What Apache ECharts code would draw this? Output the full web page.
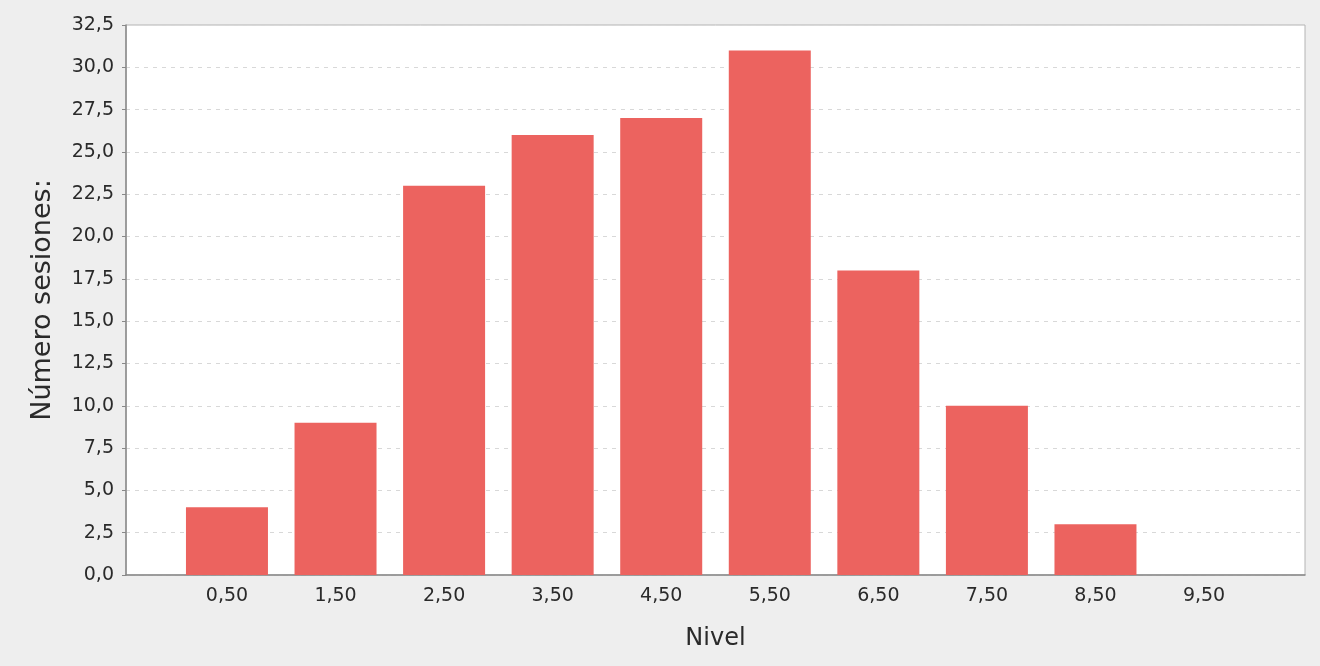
<!DOCTYPE html>
<html>
<head>
<meta charset="utf-8">
<script src="https://cdn.jsdelivr.net/npm/echarts@6/dist/echarts.min.js"></script>
<style>
html,body{margin:0;padding:0;background:#eeeeee;}
#c{width:1320px;height:666px;}
</style>
</head>
<body>
<div id="c"></div>
<script>
const binCenters = [0.5, 1.5, 2.5, 3.5, 4.5, 5.5, 6.5, 7.5, 8.5, 9.5];
const sessionCounts = [4, 9, 23, 26, 27, 31, 18, 10, 3, 0];
const xTickValues = [0.5, 1.5, 2.5, 3.5, 4.5, 5.5, 6.5, 7.5, 8.5, 9.5];
const yTickStep = 2.5;
const yMax = 32.5;

const chart = echarts.init(document.getElementById('c'), null, {renderer: 'canvas'});
const font = 'DejaVu Sans';
chart.setOption({
  backgroundColor: '#eeeeee',
  animation: false,
  grid: {
    left: 126, right: 15, top: 25, bottom: 91,
    show: true, backgroundColor: '#ffffff', borderColor: '#b4b4b4', borderWidth: 1
  },
  xAxis: {
    type: 'value',
    min: -0.43, max: 10.43,
    name: 'Nivel',
    nameLocation: 'middle',
    nameGap: 52,
    nameTextStyle: {fontFamily: font, fontSize: 24, color: '#2a2a2a'},
    axisLine: {show: true, onZero: false, lineStyle: {color: '#888', width: 1.5}},
    axisTick: {show: false},
    splitLine: {show: false},
    axisLabel: {
      customValues: xTickValues,
      fontFamily: font, fontSize: 19, color: '#2a2a2a', margin: 12,
      formatter: v => v.toFixed(2).replace('.', ',')
    }
  },
  yAxis: {
    type: 'value',
    min: 0, max: yMax, interval: yTickStep,
    name: 'Número sesiones:',
    nameLocation: 'middle',
    nameGap: 70,
    nameTextStyle: {fontFamily: font, fontSize: 27, color: '#2a2a2a'},
    axisLine: {show: true, onZero: false, lineStyle: {color: '#888', width: 1.5}},
    axisTick: {show: true, length: 4, lineStyle: {color: '#888'}},
    splitLine: {show: true, lineStyle: {color: '#d8d8d8', type: [4, 5], width: 1}},
    axisLabel: {
      fontFamily: font, fontSize: 19, color: '#2a2a2a', margin: 12,
      formatter: v => v.toFixed(1).replace('.', ',')
    }
  },
  series: [{
    type: 'bar',
    barWidth: 82,
    data: binCenters.map((x, i) => [x, sessionCounts[i]]),
    itemStyle: {color: '#ec635f', borderWidth: 0}
  }]
});
</script>
</body>
</html>
